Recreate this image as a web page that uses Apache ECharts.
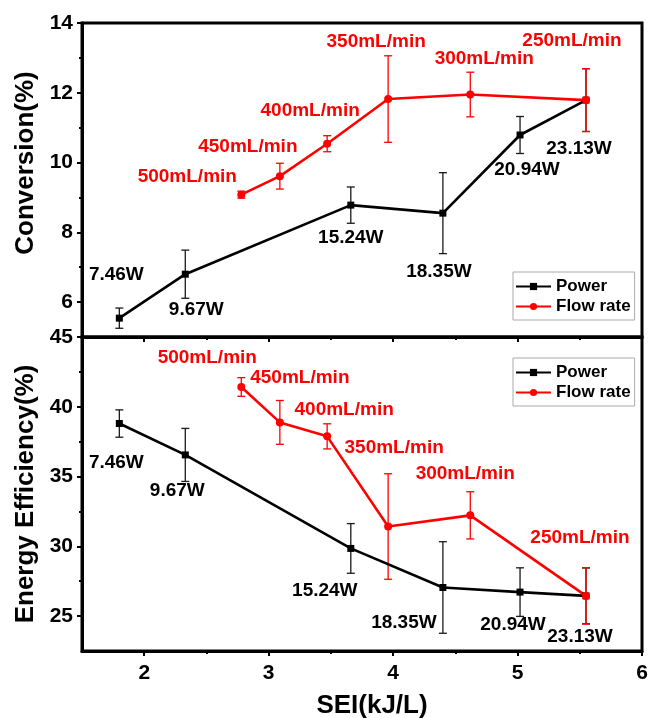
<!DOCTYPE html>
<html>
<head>
<meta charset="utf-8">
<script src="https://cdn.jsdelivr.net/npm/echarts@6/dist/echarts.min.js"></script>
<style>
  html, body { margin: 0; padding: 0; background: #fff; }
  #chart { width: 651px; height: 718px; }
</style>
</head>
<body>
<div id="chart"></div>
<script>
// SEI (kJ/L) of each run
const powerSEI = [1.8, 2.33, 3.66, 4.4, 5.02, 5.55];
const flowSEI = [2.78, 3.09, 3.47, 3.96, 4.62, 5.55];

// point annotations
const powerLabels = ['7.46W', '9.67W', '15.24W', '18.35W', '20.94W', '23.13W'];
const flowLabels = ['500mL/min', '450mL/min', '400mL/min', '350mL/min', '300mL/min', '250mL/min'];

// Conversion (%) with standard deviation
const convPower = [5.54, 6.80, 8.78, 8.55, 10.79, 11.79];
const convPowerErr = [0.29, 0.69, 0.52, 1.16, 0.53, 0.9];
const convFlow = [9.08, 9.61, 10.54, 11.82, 11.95, 11.79];
const convFlowErr = [0.1, 0.37, 0.23, 1.24, 0.64, 0.9];

// Energy efficiency (%) with standard deviation
const effPower = [38.8, 36.55, 29.85, 27.05, 26.72, 26.45];
const effPowerErr = [0.98, 1.9, 1.78, 3.28, 1.74, 2.0];
const effFlow = [41.42, 38.88, 37.88, 31.42, 32.22, 26.45];
const effFlowErr = [0.67, 1.57, 0.9, 3.78, 1.69, 2.02];

// tick positions
const xTicks = [2, 3, 4, 5, 6];
const xMinor = [2.5, 3.5, 4.5, 5.5];
const convTicks = [6, 8, 10, 12, 14];
const convMinor = [7, 9, 11, 13];
const effTicks = [25, 30, 35, 40, 45];
const effMinor = [27.5, 32.5, 37.5, 42.5];

// label placement relative to each point, in pixels
const convPowerNudge = [[-3, -43], [11, 36], [0, 33], [-4, 59], [7, 35], [-7, 49]];
const convFlowNudge = [[-54, -18], [-32, -29], [-17, -33], [-12, -57], [14, -36], [-14, -59]];
const effPowerNudge = [[-3, 39], [-8, 36], [-26, 42], [-39, 35], [-7, 33], [-6, 41]];
const effFlowNudge = [[-34, -29], [20, -45], [17, -27], [6, -79], [-5, -42], [-6, -58]];

const FONT = 'Liberation Sans, Arial, sans-serif';
const BLACK = '#000000';
const RED = '#ff0000';

function majorAxis(dim, grid, min, max, ticks, labels, name, extra) {
  return Object.assign({
    type: 'value', gridIndex: grid, min: min, max: max,
    position: dim === 'x' ? 'bottom' : 'left',
    axisLine: { show: true, onZero: false, lineStyle: { color: BLACK, width: 3 } },
    axisTick: { show: true, customValues: ticks, length: 5, lineStyle: { color: BLACK, width: 2 } },
    axisLabel: {
      show: labels, customValues: ticks, margin: dim === 'x' ? 12 : 9,
      color: BLACK, fontFamily: FONT, fontWeight: 'bold', fontSize: 21
    },
    splitLine: { show: false },
    name: name || '',
    nameLocation: 'middle',
    nameTextStyle: { color: BLACK, fontFamily: FONT, fontWeight: 'bold', fontSize: 26 }
  }, extra || {});
}

function minorAxis(dim, grid, min, max, ticks) {
  return {
    type: 'value', gridIndex: grid, min: min, max: max,
    position: dim === 'x' ? 'bottom' : 'left', offset: 0,
    axisLine: { show: false, onZero: false },
    axisTick: { show: true, customValues: ticks, length: 3, lineStyle: { color: BLACK, width: 2 } },
    axisLabel: { show: false },
    splitLine: { show: false }
  };
}

function lineSeries(name, xs, ys, labels, nudge, color, symbol, size, xi, yi) {
  return {
    name: name, type: 'line', xAxisIndex: xi, yAxisIndex: yi, z: 3,
    symbol: symbol, symbolSize: size,
    itemStyle: { color: color },
    lineStyle: { color: color, width: 2.6 },
    data: xs.map((x, i) => ({ value: [x, ys[i]], label: { offset: nudge[i] } })),
    label: {
      show: true, position: 'inside',
      formatter: p => labels[p.dataIndex],
      color: color, textBorderWidth: 0,
      fontFamily: FONT, fontWeight: 'bold', fontSize: 19
    },
    emphasis: { disabled: true },
    animation: false
  };
}

function errorSeries(xs, ys, errs, color, xi, yi) {
  return {
    type: 'custom', xAxisIndex: xi, yAxisIndex: yi, z: 2, silent: true,
    data: xs.map((x, i) => [x, ys[i] - errs[i], ys[i] + errs[i]]),
    encode: { x: 0, y: [1, 2] },
    renderItem: function (params, api) {
      const lo = api.coord([api.value(0), api.value(1)]);
      const hi = api.coord([api.value(0), api.value(2)]);
      const w = 4;
      const style = { stroke: color, lineWidth: 1.3, fill: null };
      return {
        type: 'group',
        children: [
          { type: 'line', shape: { x1: lo[0], y1: lo[1], x2: hi[0], y2: hi[1] }, style: style },
          { type: 'line', shape: { x1: lo[0] - w, y1: lo[1], x2: lo[0] + w, y2: lo[1] }, style: style },
          { type: 'line', shape: { x1: hi[0] - w, y1: hi[1], x2: hi[0] + w, y2: hi[1] }, style: style }
        ]
      };
    },
    animation: false
  };
}

function legendBox(top) {
  return {
    left: 513, top: top, orient: 'vertical',
    data: ['Power', 'Flow rate'],
    itemWidth: 35, itemHeight: 9, itemGap: 3,
    padding: [6, 4, 5, 2],
    borderColor: '#aaaaaa', borderWidth: 1, backgroundColor: '#ffffff',
    textStyle: { color: BLACK, fontFamily: FONT, fontWeight: 'bold', fontSize: 17 },
    selectedMode: false
  };
}

const chart = echarts.init(document.getElementById('chart'), null, { renderer: 'canvas' });

chart.setOption({
  animation: false,
  backgroundColor: '#ffffff',
  grid: [
    { left: 82, right: 9, top: 23, height: 314, show: true, borderColor: BLACK, borderWidth: 3,
      backgroundColor: 'transparent', containLabel: false, outerBoundsMode: 'none' },
    { left: 82, right: 9, top: 337, bottom: 67, show: true, borderColor: BLACK, borderWidth: 3,
      backgroundColor: 'transparent', containLabel: false, outerBoundsMode: 'none' }
  ],
  xAxis: [
    majorAxis('x', 0, 1.5, 6, xTicks, false),
    minorAxis('x', 0, 1.5, 6, xMinor),
    majorAxis('x', 1, 1.5, 6, xTicks, true, 'SEI(kJ/L)',
      { nameGap: 42, nameTextStyle: { color: BLACK, fontFamily: FONT, fontWeight: 'bold', fontSize: 26, padding: [0, 0, 0, 20] } }),
    minorAxis('x', 1, 1.5, 6, xMinor)
  ],
  yAxis: [
    majorAxis('y', 0, 5, 14, convTicks, true, 'Conversion(%)',
      { nameGap: 40, nameTextStyle: { color: BLACK, fontFamily: FONT, fontWeight: 'bold', fontSize: 26, padding: [0, 0, 0, 34] } }),
    minorAxis('y', 0, 5, 14, convMinor),
    majorAxis('y', 1, 22.5, 45, effTicks, true, 'Energy Efficiency(%)', { nameGap: 40 }),
    minorAxis('y', 1, 22.5, 45, effMinor)
  ],
  legend: [legendBox(272), legendBox(358)],
  series: [
    errorSeries(powerSEI, convPower, convPowerErr, '#1a1a1a', 0, 0),
    lineSeries('Power', powerSEI, convPower, powerLabels, convPowerNudge, BLACK, 'rect', 7, 0, 0),
    errorSeries(flowSEI, convFlow, convFlowErr, RED, 0, 0),
    lineSeries('Flow rate', flowSEI, convFlow, flowLabels, convFlowNudge, RED, 'circle', 8, 0, 0),
    errorSeries(powerSEI, effPower, effPowerErr, '#1a1a1a', 2, 2),
    lineSeries('Power', powerSEI, effPower, powerLabels, effPowerNudge, BLACK, 'rect', 7, 2, 2),
    errorSeries(flowSEI, effFlow, effFlowErr, RED, 2, 2),
    lineSeries('Flow rate', flowSEI, effFlow, flowLabels, effFlowNudge, RED, 'circle', 8, 2, 2)
  ]
});
</script>
</body>
</html>
